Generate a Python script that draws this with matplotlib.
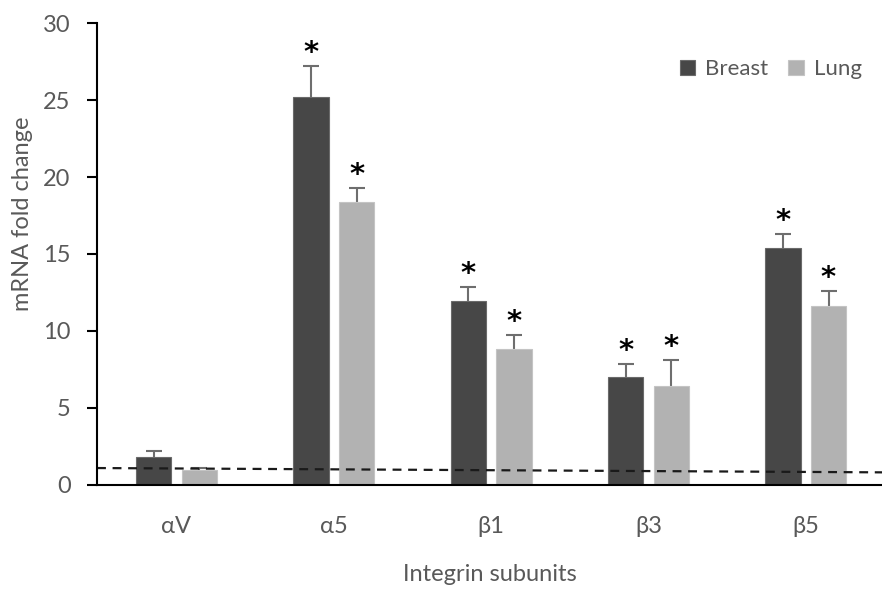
import numpy as np
from matplotlib import pyplot as plt

plt.rcParams['font.family'] = ['Lato', 'DejaVu Sans']

subunits = ["αV", "α5", "β1", "β3", "β5"]
breast = [1.84, 25.2, 11.95, 7.03, 15.37]
breast_err = [0.36, 2.0, 0.93, 0.81, 0.95]
lung = [0.97, 18.36, 8.83, 6.45, 11.64]
lung_err = [0.12, 0.91, 0.91, 1.67, 0.96]
breast_sig = [False, True, True, True, True]
lung_sig = [False, True, True, True, True]
baseline_x = [-0.505, 4.485]
baseline_y = [1.1, 0.82]

grey_txt = "#595959"
x = np.arange(len(subunits))
w = 0.225
off = 0.145

fig = plt.figure(figsize=(8.82, 5.90), dpi=100)
ax = fig.add_axes([0.110, 0.178, 0.89, 0.783])

ax.bar(x - off, breast, w, color="#474747", edgecolor="#6a6a6a", linewidth=0.8,
       label="Breast", zorder=2)
ax.bar(x + off, lung, w, color="#b2b2b2", edgecolor="#c4c4c4", linewidth=0.8,
       label="Lung", zorder=2)
# symmetric bars drawn under the columns so only the upper half shows
ax.errorbar(x - off, breast, yerr=breast_err, fmt="none",
            ecolor="#6e6e6e", elinewidth=1.5, capsize=6, capthick=1.5, zorder=1)
ax.errorbar(x + off, lung, yerr=lung_err, fmt="none",
            ecolor="#6e6e6e", elinewidth=1.5, capsize=6, capthick=1.5, zorder=1)

for i in range(len(subunits)):
    if breast_sig[i]:
        ax.text(x[i] - off, breast[i] + breast_err[i] + 0.85, "*", ha="center",
                va="center", fontsize=21, fontweight="bold", color="black",
                family="DejaVu Sans")
    if lung_sig[i]:
        ax.text(x[i] + off, lung[i] + lung_err[i] + 0.85, "*", ha="center",
                va="center", fontsize=21, fontweight="bold", color="black",
                family="DejaVu Sans")

ax.plot(baseline_x, baseline_y, ls=(0, (4, 3)), color="#1a1a1a", lw=1.6, zorder=4)

ax.set_xlim(-0.505, 4.485)
ax.set_ylim(0, 30)
ax.set_yticks([0, 5, 10, 15, 20, 25, 30])
ax.set_xticks(x)
ax.set_xticklabels(subunits)
ax.tick_params(axis="y", direction="out", length=7, width=1.5, pad=12,
               labelsize=17, labelcolor=grey_txt)
ax.tick_params(axis="x", length=0, pad=22, labelsize=17, labelcolor=grey_txt)
for s in ["top", "right"]:
    ax.spines[s].set_visible(False)
ax.spines["left"].set_linewidth(1.5)
ax.spines["bottom"].set_linewidth(1.5)
ax.spines["left"].set_zorder(5)
ax.spines["bottom"].set_zorder(5)

ax.set_ylabel("mRNA fold change", fontsize=17, color=grey_txt)
ax.yaxis.set_label_coords(-0.082, 0.588)
ax.set_xlabel("Integrin subunits", fontsize=17, color=grey_txt, labelpad=20)

ax.legend(loc="upper right", bbox_to_anchor=(1.0, 0.965), ncol=2, frameon=False,
          fontsize=16, handlelength=0.7, handleheight=0.7, handletextpad=0.45,
          columnspacing=0.9, labelcolor=grey_txt)

plt.savefig("out.png", dpi=100)
